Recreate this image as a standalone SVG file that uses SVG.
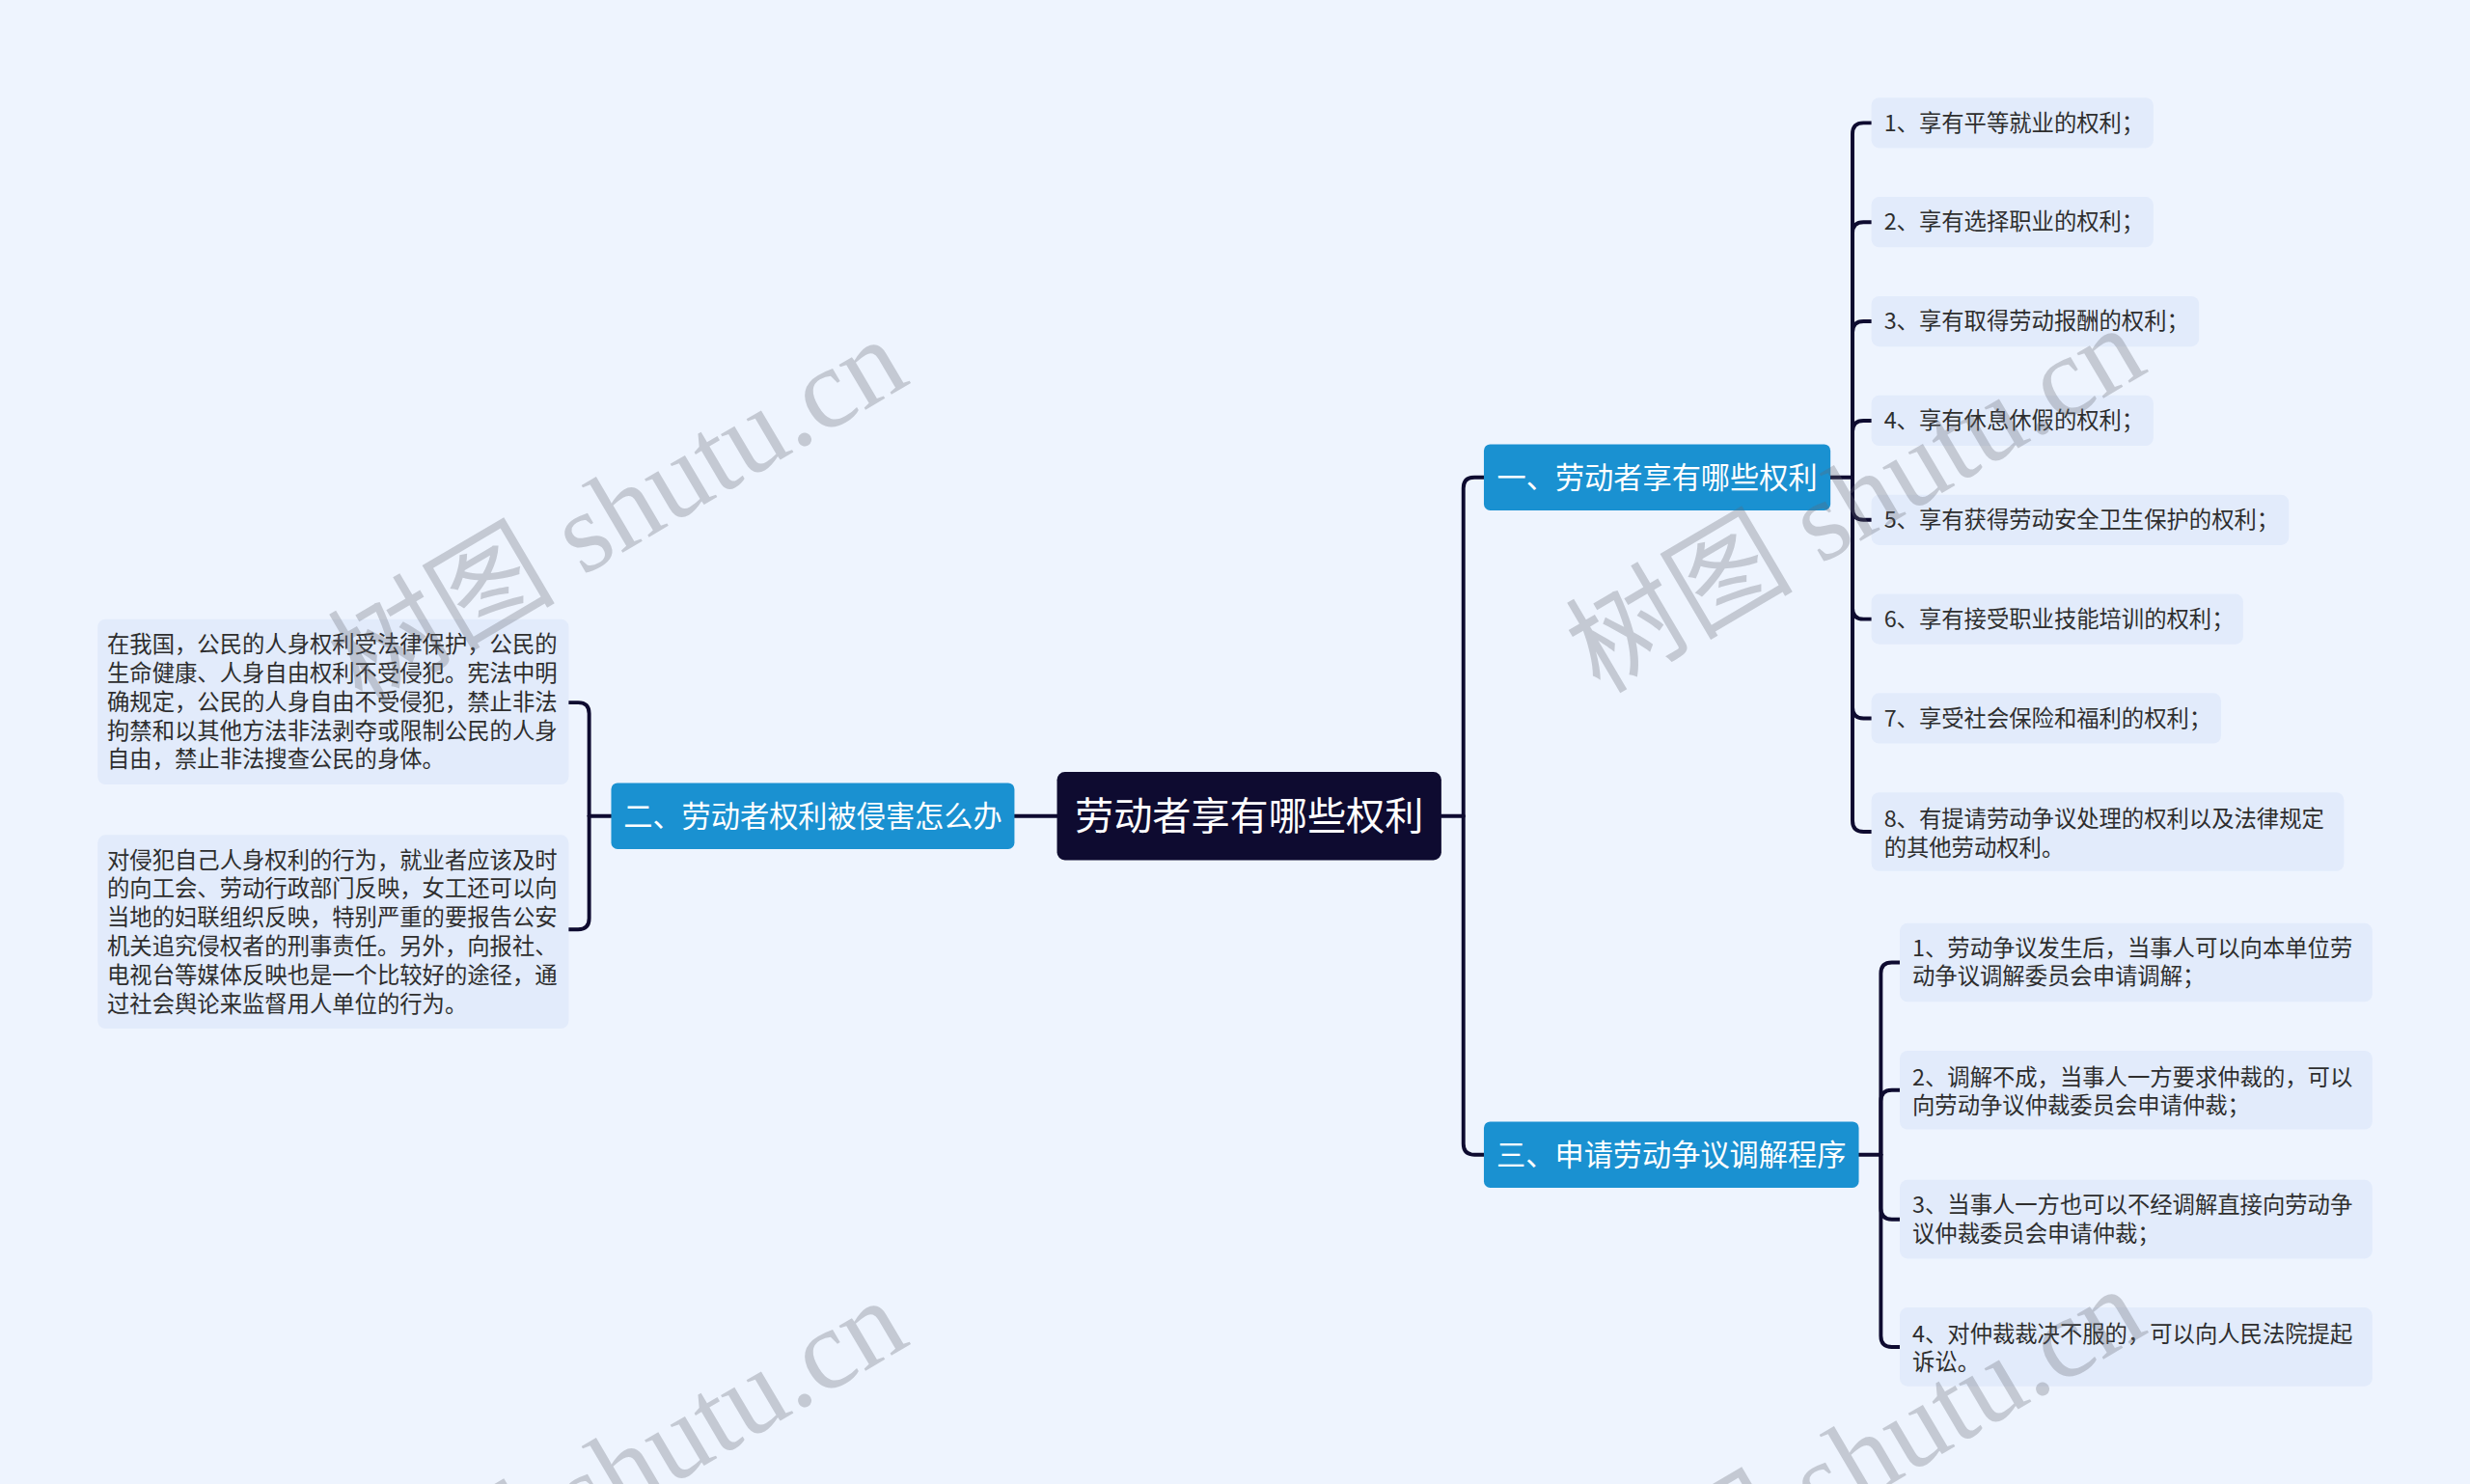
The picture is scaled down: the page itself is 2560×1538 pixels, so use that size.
<svg xmlns="http://www.w3.org/2000/svg" width="2560" height="1538" viewBox="0 0 2560 1538">
<style>
.bg{fill:#eef4fe}
.root rect{fill:#0e0b30}
.l1 rect{fill:#1a91d1}
.root text,.l1 text{fill:#ffffff;font-family:"Noto Sans CJK SC","Noto Sans",sans-serif;text-anchor:middle}
.leaf rect{fill:#e2ebfb}
.leaf text{fill:#2e2e2e;font-family:"Noto Sans CJK SC","Noto Sans",sans-serif;font-size:14.3px}
.conn path{fill:none;stroke:#0e0b30;stroke-width:2.4;stroke-linecap:round;stroke-linejoin:round}
.wm{fill:#646771;fill-opacity:0.3;font-family:"Liberation Serif","Noto Sans CJK SC",serif;font-size:118px}
</style>
<rect class="bg" x="0" y="0" width="2560" height="1538"/>
<g transform="scale(1.632653)">
<g id="connectors" class="conn">
<path d="M671,518 H644"/>
<path d="M388,518 H374"/>
<path d="M374,518 V453 Q374,446 367,446 H361"/>
<path d="M374,518 V583 Q374,590 367,590 H361"/>
<path d="M915,518 H929"/>
<path d="M929,518 V310 Q929,303 936,303 H942"/>
<path d="M929,518 V726 Q929,733 936,733 H942"/>
<path d="M1162,303 H1176"/>
<path d="M1176,303 V85 Q1176,78 1183,78 H1188"/>
<path d="M1176,303 V148 Q1176,141 1183,141 H1188"/>
<path d="M1176,303 V211 Q1176,204 1183,204 H1188"/>
<path d="M1176,303 V274 Q1176,267 1183,267 H1188"/>
<path d="M1176,303 V323 Q1176,330 1183,330 H1188"/>
<path d="M1176,303 V386 Q1176,393 1183,393 H1188"/>
<path d="M1176,303 V449 Q1176,456 1183,456 H1188"/>
<path d="M1176,303 V521 Q1176,528 1183,528 H1188"/>
<path d="M1180,733 H1194"/>
<path d="M1194,733 V618 Q1194,611 1201,611 H1206"/>
<path d="M1194,733 V699 Q1194,692 1201,692 H1206"/>
<path d="M1194,733 V767 Q1194,774 1201,774 H1206"/>
<path d="M1194,733 V848 Q1194,855 1201,855 H1206"/>
</g>
<g id="root" class="root">
<rect x="671" y="490" width="244" height="56" rx="5"/>
<text x="793" y="526.8" font-size="24.6">劳动者享有哪些权利</text>
</g>
<g id="n1" class="l1">
<rect x="942" y="282" width="220" height="42" rx="4"/>
<text x="1052" y="309.7" font-size="18.5">一、劳动者享有哪些权利</text>
</g>
<g id="n2" class="l1">
<rect x="388" y="497" width="256" height="42" rx="4"/>
<text x="516" y="524.7" font-size="18.5">二、劳动者权利被侵害怎么办</text>
</g>
<g id="n3" class="l1">
<rect x="942" y="712" width="238" height="42" rx="4"/>
<text x="1061" y="739.7" font-size="18.5">三、申请劳动争议调解程序</text>
</g>
<g id="n1-1" class="leaf"><rect x="1188" y="62" width="179" height="32" rx="5"/><text x="1196" y="83">1、享有平等就业的权利；</text></g>
<g id="n1-2" class="leaf"><rect x="1188" y="125" width="179" height="32" rx="5"/><text x="1196" y="146">2、享有选择职业的权利；</text></g>
<g id="n1-3" class="leaf"><rect x="1188" y="188" width="208" height="32" rx="5"/><text x="1196" y="209">3、享有取得劳动报酬的权利；</text></g>
<g id="n1-4" class="leaf"><rect x="1188" y="251" width="179" height="32" rx="5"/><text x="1196" y="272">4、享有休息休假的权利；</text></g>
<g id="n1-5" class="leaf"><rect x="1188" y="314" width="265" height="32" rx="5"/><text x="1196" y="335">5、享有获得劳动安全卫生保护的权利；</text></g>
<g id="n1-6" class="leaf"><rect x="1188" y="377" width="236" height="32" rx="5"/><text x="1196" y="398">6、享有接受职业技能培训的权利；</text></g>
<g id="n1-7" class="leaf"><rect x="1188" y="440" width="222" height="32" rx="5"/><text x="1196" y="461">7、享受社会保险和福利的权利；</text></g>
<g id="n1-8" class="leaf"><rect x="1188" y="503" width="300" height="50" rx="5"/><text x="1196" y="525">8、有提请劳动争议处理的权利以及法律规定<tspan x="1196" dy="18">的其他劳动权利。</tspan></text></g>
<g id="n3-1" class="leaf"><rect x="1206" y="586" width="300" height="50" rx="5"/><text x="1214" y="607">1、劳动争议发生后，当事人可以向本单位劳<tspan x="1214" dy="18">动争议调解委员会申请调解；</tspan></text></g>
<g id="n3-2" class="leaf"><rect x="1206" y="667" width="300" height="50" rx="5"/><text x="1214" y="689">2、调解不成，当事人一方要求仲裁的，可以<tspan x="1214" dy="18">向劳动争议仲裁委员会申请仲裁；</tspan></text></g>
<g id="n3-3" class="leaf"><rect x="1206" y="749" width="300" height="50" rx="5"/><text x="1214" y="770">3、当事人一方也可以不经调解直接向劳动争<tspan x="1214" dy="18">议仲裁委员会申请仲裁；</tspan></text></g>
<g id="n3-4" class="leaf"><rect x="1206" y="830" width="300" height="50" rx="5"/><text x="1214" y="852">4、对仲裁裁决不服的，可以向人民法院提起<tspan x="1214" dy="18">诉讼。</tspan></text></g>
<g id="n2-1" class="leaf"><rect x="62" y="393" width="299" height="105" rx="5"/><text x="68" y="414">在我国，公民的人身权利受法律保护，公民的<tspan x="68" dy="18.3">生命健康、人身自由权利不受侵犯。宪法中明</tspan><tspan x="68" dy="18.3">确规定，公民的人身自由不受侵犯，禁止非法</tspan><tspan x="68" dy="18.3">拘禁和以其他方法非法剥夺或限制公民的人身</tspan><tspan x="68" dy="18.3">自由，禁止非法搜查公民的身体。</tspan></text></g>
<g id="n2-2" class="leaf"><rect x="62" y="530" width="299" height="123" rx="5"/><text x="68" y="551">对侵犯自己人身权利的行为，就业者应该及时<tspan x="68" dy="18.3">的向工会、劳动行政部门反映，女工还可以向</tspan><tspan x="68" dy="18.3">当地的妇联组织反映，特别严重的要报告公安</tspan><tspan x="68" dy="18.3">机关追究侵权者的刑事责任。另外，向报社、</tspan><tspan x="68" dy="18.3">电视台等媒体反映也是一个比较好的途径，通</tspan><tspan x="68" dy="18.3">过社会舆论来监督用人单位的行为。</tspan></text></g>
</g>
<g id="watermarks">
<text class="wm" transform="translate(375,732) rotate(-30.5)">树图 shutu.cn</text>
<text class="wm" transform="translate(1658,720) rotate(-30.5)">树图 shutu.cn</text>
<text class="wm" transform="translate(375,1728) rotate(-30.5)">树图 shutu.cn</text>
<text class="wm" transform="translate(1658,1716) rotate(-30.5)">树图 shutu.cn</text>
</g>
</svg>
